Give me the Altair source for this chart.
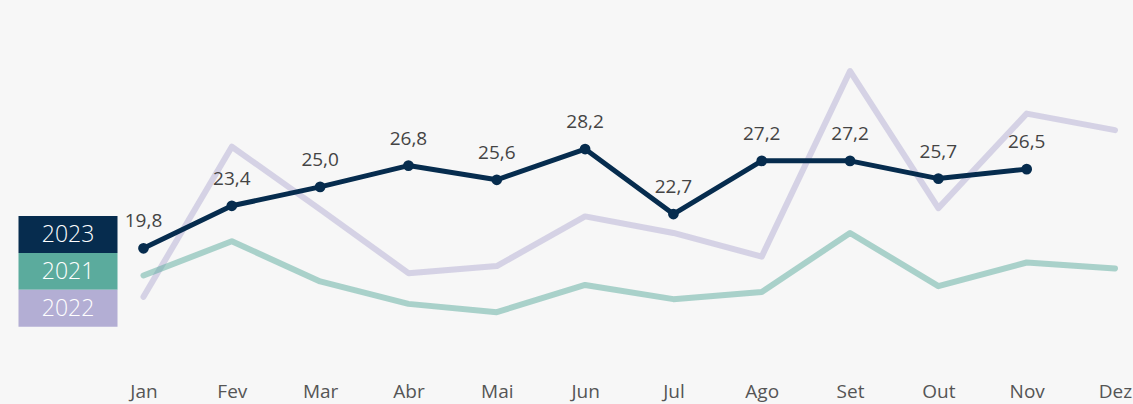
import altair as alt
import pandas as pd

months = ["Jan", "Fev", "Mar", "Abr", "Mai", "Jun", "Jul", "Ago", "Set", "Out", "Nov", "Dez"]
v2023 = [19.8, 23.4, 25.0, 26.8, 25.6, 28.2, 22.7, 27.2, 27.2, 25.7, 26.5, None]
v2022 = [15.7, 28.4, 23.1, 17.7, 18.3, 22.5, 21.1, 19.1, 34.8, 23.2, 31.2, 29.8]
v2021 = [17.5, 20.4, 17.0, 15.1, 14.4, 16.7, 15.5, 16.1, 21.1, 16.6, 18.6, 18.1]

legend_names = ["2023", "2021", "2022"]
legend_colors = ["#062c4e", "#5bab9d", "#b3aed4"]

rows = []
for name, vals in (("2022", v2022), ("2021", v2021), ("2023", v2023)):
    for m, v in zip(months, vals):
        if v is not None:
            rows.append({"serie": name, "mes": m, "valor": v})
df = pd.DataFrame(rows)
leg = pd.DataFrame({"nome": legend_names, "cor": legend_colors})

FONT = "Open Sans"

x = alt.X(
    "mes:N",
    sort=months,
    scale=alt.Scale(type="point", domain=months, range=[143.5, 1115], padding=0),
    axis=alt.Axis(
        title=None, domain=False, ticks=False, grid=False, labelAngle=0,
        labelFontSize=19, labelColor="#555555", labelFont=FONT, labelPadding=2,
    ),
)
y = alt.Y("valor:Q", scale=alt.Scale(domain=[8.66, 40.81], nice=False, zero=False), axis=None)

base = alt.Chart(df).encode(x=x, y=y)

line22 = base.transform_filter(alt.datum.serie == "2022").mark_line(
    color="#b3aed4", opacity=0.5, strokeWidth=6, strokeCap="round", strokeJoin="round"
)
line21 = base.transform_filter(alt.datum.serie == "2021").mark_line(
    color="#5bab9d", opacity=0.5, strokeWidth=6, strokeCap="round", strokeJoin="round"
)
d23 = base.transform_filter(alt.datum.serie == "2023")
line23 = d23.mark_line(color="#062c4e", strokeWidth=5, strokeCap="round", strokeJoin="round")
pts23 = d23.mark_circle(color="#062c4e", size=115, opacity=1)
txt23 = d23.transform_calculate(
    lbl="replace(format(datum.valor, '.1f'), '.', ',')"
).mark_text(dy=-21, baseline="alphabetic", fontSize=19, color="#444444", font=FONT).encode(
    text="lbl:N"
)

ly = alt.Y(
    "nome:N", sort=legend_names,
    scale=alt.Scale(type="band", domain=legend_names, range=[216, 326.7], paddingInner=0, paddingOuter=0),
    axis=None,
)
leg_rect = alt.Chart(leg).mark_rect().encode(
    x=alt.value(18.5), x2=alt.value(117.5), y=ly, color=alt.Color("cor:N", scale=None)
)
leg_txt = alt.Chart(leg).mark_text(
    fontSize=23, fontWeight=300, font=FONT, color="white", baseline="middle", align="center", dy=1
).encode(x=alt.value(68), y=ly, text="nome:N")

chart = (
    alt.layer(line22, line21, line23, pts23, txt23, leg_rect, leg_txt)
    .resolve_scale(y="independent", color="independent")
    .properties(
        width=1133, height=380, background="#f7f7f7",
        autosize=alt.AutoSizeParams(type="none"),
        padding={"left": 0, "top": 0, "right": 0, "bottom": 24},
    )
    .configure_view(stroke=None)
)

chart.save("out.html", embed_options={"renderer": "svg", "actions": False})
